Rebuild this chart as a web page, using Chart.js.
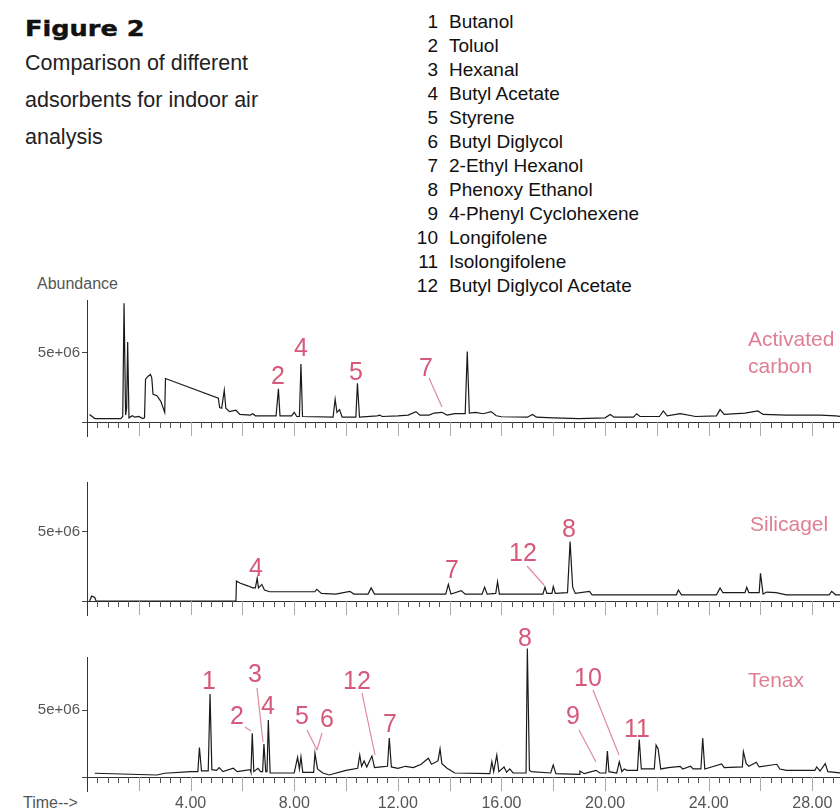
<!DOCTYPE html>
<html lang="en">
  <head>
    <meta charset="UTF-8" />
    <title>Figure 2 - adsorbent comparison</title>
    <script src="https://cdn.jsdelivr.net/npm/chart.js"></script>
    <style>
      body {
        margin: 0;
        width: 840px;
        height: 809px;
        position: relative;
        overflow: hidden;
        background: #fff;
        font-family: "Liberation Sans", Arial, sans-serif;
      }
      canvas {
        position: absolute;
        left: 0;
      }
      .title {
        position: absolute;
        left: 25px;
        top: 17px;
        font-family: "DejaVu Sans", sans-serif;
        font-weight: 900;
        font-size: 21px;
        color: #111;
        transform: scaleX(1.22);
        transform-origin: left center;
        -webkit-text-stroke: 0.4px #111;
      }
      .caption {
        position: absolute;
        left: 25px;
        font-size: 21.5px;
        color: #222;
        line-height: 1;
        transform: translateY(-50%);
      }
      .cmp {
        position: absolute;
        font-size: 19px;
        color: #111;
        line-height: 1;
        transform: translateY(-50%);
        white-space: nowrap;
      }
      .cmp .n {
        display: inline-block;
        width: 30px;
        text-align: right;
        margin-right: 11px;
      }
      .axis-txt {
        position: absolute;
        color: #555;
        font-size: 16px;
        line-height: 1;
        transform: translateY(-50%);
      }
      .pk {
        position: absolute;
        color: #d6587a;
        font-size: 25px;
        line-height: 1;
        transform: translate(-50%, -50%);
      }
      .name {
        position: absolute;
        color: #e07e95;
        font-size: 21px;
        line-height: 1;
        transform: translateY(-50%);
      }
      svg {
        position: absolute;
        left: 0;
        top: 0;
        pointer-events: none;
      }
    </style>
  </head>
  <body>
    <div class="title">Figure 2</div>
    <div class="caption" style="top: 64px">Comparison of different</div>
    <div class="caption" style="top: 101px">adsorbents for indoor air</div>
    <div class="caption" style="top: 138px">analysis</div>

    <div id="compounds"></div>

    <div class="axis-txt" style="left: 37px; top: 284px">Abundance</div>
    <div class="axis-txt" style="left: 23px; top: 803px">Time--&gt;</div>

    <canvas id="carbonChart" width="840" height="162" style="top: 280px"></canvas>
    <canvas id="silicaChart" width="840" height="159" style="top: 462px"></canvas>
    <canvas id="tenaxChart" width="840" height="179" style="top: 630px"></canvas>

    <!-- pointer lines from labels to peaks -->
    <svg width="840" height="809" stroke="#e08aa0" stroke-width="1.2">
      <line x1="429" y1="378" x2="442" y2="407" />
      <line x1="527" y1="566" x2="544" y2="585" />
      <line x1="245" y1="727" x2="251" y2="731" />
      <line x1="257" y1="688" x2="263" y2="742" />
      <line x1="307" y1="730" x2="317" y2="750" />
      <line x1="322" y1="733" x2="317" y2="750" />
      <line x1="362" y1="693" x2="375" y2="755" />
      <line x1="579" y1="730" x2="596" y2="762" />
      <line x1="593" y1="690" x2="619" y2="755" />
    </svg>

    <!-- activated carbon labels -->
    <div class="pk" style="left: 278px; top: 375px">2</div>
    <div class="pk" style="left: 301px; top: 347px">4</div>
    <div class="pk" style="left: 356px; top: 371px">5</div>
    <div class="pk" style="left: 426px; top: 367px">7</div>
    <div class="name" style="left: 748px; top: 338px">Activated</div>
    <div class="name" style="left: 748px; top: 365px">carbon</div>

    <!-- silicagel labels -->
    <div class="pk" style="left: 256px; top: 567px">4</div>
    <div class="pk" style="left: 452px; top: 569px">7</div>
    <div class="pk" style="left: 523px; top: 552px">12</div>
    <div class="pk" style="left: 569px; top: 528px">8</div>
    <div class="name" style="left: 750px; top: 523px">Silicagel</div>

    <!-- tenax labels -->
    <div class="pk" style="left: 209px; top: 680px">1</div>
    <div class="pk" style="left: 237px; top: 715px">2</div>
    <div class="pk" style="left: 255px; top: 673px">3</div>
    <div class="pk" style="left: 268px; top: 705px">4</div>
    <div class="pk" style="left: 302px; top: 715px">5</div>
    <div class="pk" style="left: 327px; top: 718px">6</div>
    <div class="pk" style="left: 357px; top: 680px">12</div>
    <div class="pk" style="left: 390px; top: 723px">7</div>
    <div class="pk" style="left: 525px; top: 637px">8</div>
    <div class="pk" style="left: 573px; top: 715px">9</div>
    <div class="pk" style="left: 588px; top: 677px">10</div>
    <div class="pk" style="left: 637px; top: 728px">11</div>
    <div class="name" style="left: 748px; top: 679px">Tenax</div>

    <script>
      // compound list shown top right
      var compounds = [
        "Butanol",
        "Toluol",
        "Hexanal",
        "Butyl Acetate",
        "Styrene",
        "Butyl Diglycol",
        "2-Ethyl Hexanol",
        "Phenoxy Ethanol",
        "4-Phenyl Cyclohexene",
        "Longifolene",
        "Isolongifolene",
        "Butyl Diglycol Acetate",
      ];

      // time axis (min) and abundance ticks
      var timeTicks = [4, 8, 12, 16, 20, 24, 28];
      var abundTicks = [0, 5e6];
      var unit = 1e6; // trace values below are in millions of counts

      // [time (min), abundance (1e6)]
      var carbonTrace = [
        [0.1, 0.55], [0.3, 0.25], [1.3, 0.25], [1.38, 0.4], [1.43, 8.6], [1.49, 0.5],
        [1.53, 1.0], [1.57, 5.8], [1.62, 0.3], [1.75, 0.45], [1.85, 0.35], [2.0, 0.4],
        [2.15, 0.25], [2.22, 0.3], [2.26, 3.1], [2.35, 3.3], [2.45, 3.45], [2.5, 3.2],
        [2.55, 2.0], [2.7, 1.9], [2.85, 1.5], [3.0, 0.7], [3.03, 3.15], [5.07, 1.72],
        [5.12, 1.05], [5.2, 1.0], [5.3, 2.3], [5.36, 1.0], [5.5, 0.75], [5.75, 0.85],
        [5.9, 0.55], [6.3, 0.5], [6.4, 0.6], [6.5, 0.45], [7.3, 0.45], [7.39, 2.4],
        [7.45, 0.45], [7.9, 0.45], [8.0, 0.7], [8.1, 0.4], [8.2, 0.4], [8.26, 4.2],
        [8.32, 0.4], [9.5, 0.35], [9.58, 1.65], [9.65, 0.7], [9.75, 0.9], [9.85, 0.35],
        [10.38, 0.35], [10.44, 2.8], [10.52, 0.35], [11.2, 0.45], [11.3, 0.5], [11.4, 0.4],
        [12.0, 0.45], [12.4, 0.5], [12.7, 0.75], [12.85, 0.5], [13.2, 0.5], [13.4, 0.65],
        [13.7, 0.7], [13.9, 0.5], [14.2, 0.6], [14.6, 0.6], [14.68, 5.1], [14.76, 0.65],
        [15.0, 0.7], [15.3, 0.6], [15.6, 0.75], [15.8, 0.45], [16.0, 0.38], [17.0, 0.35],
        [17.2, 0.55], [17.35, 0.35], [18.0, 0.3], [19.0, 0.25], [20.0, 0.3], [20.2, 0.55],
        [20.35, 0.35], [21.1, 0.35], [21.22, 0.6], [21.35, 0.4], [22.1, 0.4], [22.25, 0.8],
        [22.4, 0.45], [22.9, 0.6], [23.5, 0.4], [24.3, 0.45], [24.44, 0.9], [24.6, 0.55],
        [25.4, 0.65], [25.9, 0.8], [26.1, 0.55], [27.0, 0.5], [28.3, 0.5], [28.9, 0.45],
        [29.1, 0.4],
      ];

      var silicaTrace = [
        [0.1, 0.0], [0.18, 0.35], [0.3, 0.25], [0.35, 0.0], [5.75, 0.0], [5.77, 1.45],
        [5.9, 1.3], [6.2, 1.1], [6.4, 0.95], [6.5, 0.95], [6.57, 1.65], [6.62, 0.95],
        [6.75, 1.2], [6.85, 0.8], [7.05, 0.67], [8.8, 0.67], [8.87, 0.85], [9.05, 0.55],
        [9.6, 0.5], [10.15, 0.7], [10.3, 0.5], [10.85, 0.5], [10.97, 0.95], [11.1, 0.5],
        [13.85, 0.5], [13.95, 1.2], [14.05, 0.5], [14.45, 0.75], [14.6, 0.5], [15.25, 0.5],
        [15.35, 1.0], [15.45, 0.5], [15.78, 0.55], [15.85, 1.4], [15.92, 0.5], [17.6, 0.5],
        [17.68, 1.0], [17.75, 0.55], [17.95, 0.55], [18.0, 1.05], [18.08, 0.55], [18.55, 0.6],
        [18.65, 4.3], [18.75, 1.0], [18.85, 0.55], [19.4, 0.7], [19.5, 0.45], [22.75, 0.45],
        [22.83, 0.8], [22.95, 0.45], [24.3, 0.45], [24.44, 0.95], [24.55, 0.6], [25.4, 0.6],
        [25.47, 1.0], [25.55, 0.6], [25.95, 0.6], [26.0, 2.0], [26.1, 0.5], [26.24, 0.65],
        [26.6, 0.6], [27.0, 0.45], [28.65, 0.45], [28.75, 0.7], [28.9, 0.45], [29.1, 0.45],
      ];

      var tenaxTrace = [
        [0.3, 0.28], [2.7, 0.15], [3.0, 0.28], [4.0, 0.4], [4.28, 0.4], [4.34, 2.2],
        [4.42, 0.45], [4.68, 0.45], [4.75, 6.2], [4.82, 0.55], [5.0, 0.5], [5.1, 0.7],
        [5.25, 0.4], [5.65, 0.65], [5.8, 0.4], [6.3, 0.55], [6.33, 0.35], [6.38, 3.26],
        [6.44, 0.4], [6.6, 0.65], [6.7, 0.4], [6.78, 0.4], [6.83, 2.46], [6.9, 0.4],
        [6.95, 0.4], [7.0, 4.25], [7.07, 0.3], [8.0, 0.3], [8.13, 1.47], [8.2, 0.6],
        [8.26, 1.5], [8.33, 0.35], [8.75, 0.35], [8.8, 1.77], [8.9, 0.6], [9.1, 0.3],
        [9.35, 0.15], [10.0, 0.5], [10.45, 0.65], [10.53, 1.64], [10.6, 0.8], [10.7, 1.2],
        [10.8, 0.75], [11.0, 1.57], [11.1, 0.7], [11.35, 0.75], [11.6, 0.8], [11.67, 2.9],
        [11.75, 0.75], [12.0, 0.65], [12.3, 0.8], [12.6, 0.7], [12.9, 0.95], [13.18, 1.4],
        [13.3, 0.95], [13.55, 1.2], [13.63, 2.1], [13.7, 1.0], [13.9, 0.65], [14.2, 0.3],
        [15.55, 0.25], [15.63, 1.14], [15.7, 0.4], [15.82, 1.64], [15.9, 0.4], [16.1, 0.75],
        [16.2, 0.35], [16.32, 0.6], [16.45, 0.3], [16.95, 0.3], [17.0, 9.6], [17.08, 0.5],
        [17.15, 0.4], [17.9, 0.3], [18.0, 0.9], [18.1, 0.25], [19.0, 0.2], [19.03, 0.45],
        [19.2, 0.25], [19.65, 0.5], [19.8, 0.3], [20.03, 0.3], [20.09, 1.94], [20.15, 0.4],
        [20.45, 0.3], [20.55, 1.14], [20.65, 0.4], [20.74, 0.6], [20.85, 0.5], [21.25, 0.5],
        [21.32, 2.8], [21.4, 0.6], [21.9, 0.6], [21.97, 2.39], [22.05, 2.1], [22.15, 0.6],
        [22.45, 0.7], [22.9, 0.8], [23.0, 0.6], [23.3, 0.8], [23.4, 0.6], [23.7, 0.6],
        [23.77, 2.9], [23.85, 0.6], [24.5, 0.97], [24.6, 0.7], [25.3, 0.75], [25.34, 1.89],
        [25.45, 1.0], [25.55, 0.8], [25.84, 1.1], [25.95, 0.75], [26.63, 0.95], [26.75, 0.6],
        [27.0, 0.5], [28.1, 0.5], [28.17, 0.75], [28.3, 0.45], [28.5, 1.0], [28.6, 0.4],
        [29.1, 0.3],
      ];

      // compound list
      var box = document.getElementById("compounds");
      compounds.forEach(function (name, i) {
        var row = document.createElement("div");
        row.className = "cmp";
        row.style.left = "408px";
        row.style.top = 20.7 + i * 24 + "px";
        row.innerHTML = '<span class="n">' + (i + 1) + "</span>" + name;
        box.appendChild(row);
      });

      var xMax = 29.07;
      var minorStep = 0.4;
      var majorStep = 2;

      // chemstation style time ticks: short dark every 0.4 min, long grey every 2 min
      var chemTicks = {
        id: "chemTicks",
        afterDraw: function (chart) {
          var ctx = chart.ctx;
          var xs = chart.scales.x;
          var area = chart.chartArea;
          ctx.save();
          ctx.lineWidth = 1;
          for (var k = 0; k * minorStep <= xMax; k++) {
            var t = k * minorStep;
            var px = Math.round(xs.getPixelForValue(t)) + 0.5;
            var major = Math.abs(t / majorStep - Math.round(t / majorStep)) < 1e-6;
            ctx.strokeStyle = major ? "#aaa" : "#555";
            ctx.beginPath();
            ctx.moveTo(px, area.bottom);
            ctx.lineTo(px, area.bottom + (major ? 14 : 6));
            ctx.stroke();
          }
          // y axis runs on a little below the time axis
          ctx.strokeStyle = "#333";
          ctx.beginPath();
          ctx.moveTo(area.left + 0.5, area.bottom);
          ctx.lineTo(area.left + 0.5, area.bottom + 15);
          ctx.stroke();
          ctx.restore();
        },
      };

      function makePanel(id, trace, yMax, padTop, xHeight, showTime) {
        new Chart(document.getElementById(id).getContext("2d"), {
          type: "line",
          data: {
            datasets: [
              {
                data: trace.map(function (p) {
                  return { x: p[0], y: p[1] * unit };
                }),
                borderColor: "#1a1a1a",
                borderWidth: 1.2,
                pointRadius: 0,
                pointHoverRadius: 0,
                tension: 0,
                clip: false,
              },
            ],
          },
          options: {
            responsive: false,
            animation: false,
            events: [],
            layout: {
              autoPadding: false,
              padding: { top: padTop, left: 0, right: 0, bottom: 0 },
            },
            plugins: { legend: { display: false }, tooltip: { enabled: false } },
            scales: {
              x: {
                type: "linear",
                min: 0,
                max: xMax,
                grid: { display: false, drawTicks: false },
                border: { display: true, color: "#333", width: 1 },
                afterBuildTicks: function (scale) {
                  scale.ticks = timeTicks.map(function (v) {
                    return { value: v };
                  });
                },
                afterFit: function (scale) {
                  // same time scale in all three panels
                  scale.height = xHeight;
                  scale.paddingLeft = 0;
                  scale.paddingRight = 0;
                },
                ticks: {
                  display: showTime,
                  autoSkip: false,
                  maxRotation: 0,
                  padding: 17,
                  color: "#555",
                  font: { family: "Liberation Sans", size: 16 },
                  callback: function (v) {
                    return v.toFixed(2);
                  },
                },
              },
              y: {
                min: 0,
                max: yMax,
                grid: { drawOnChartArea: false, tickLength: 5, color: "#444" },
                border: { display: true, color: "#333", width: 1 },
                afterBuildTicks: function (scale) {
                  scale.ticks = abundTicks.map(function (v) {
                    return { value: v };
                  });
                },
                afterFit: function (scale) {
                  scale.width = 87;
                },
                ticks: {
                  padding: 2,
                  color: "#555",
                  font: { family: "Liberation Sans", size: 15 },
                  callback: function (v) {
                    return v === 0 ? "" : v.toExponential(0).replace("e+", "e+0");
                  },
                },
              },
            },
          },
          plugins: [chemTicks],
        });
      }

      makePanel("carbonChart", carbonTrace, 8.84e6, 20, 20, false);
      makePanel("silicaChart", silicaTrace, 8.62e6, 20, 20, false);
      makePanel("tenaxChart", tenaxTrace, 8.96e6, 27, 32, true);
    </script>
  </body>
</html>
